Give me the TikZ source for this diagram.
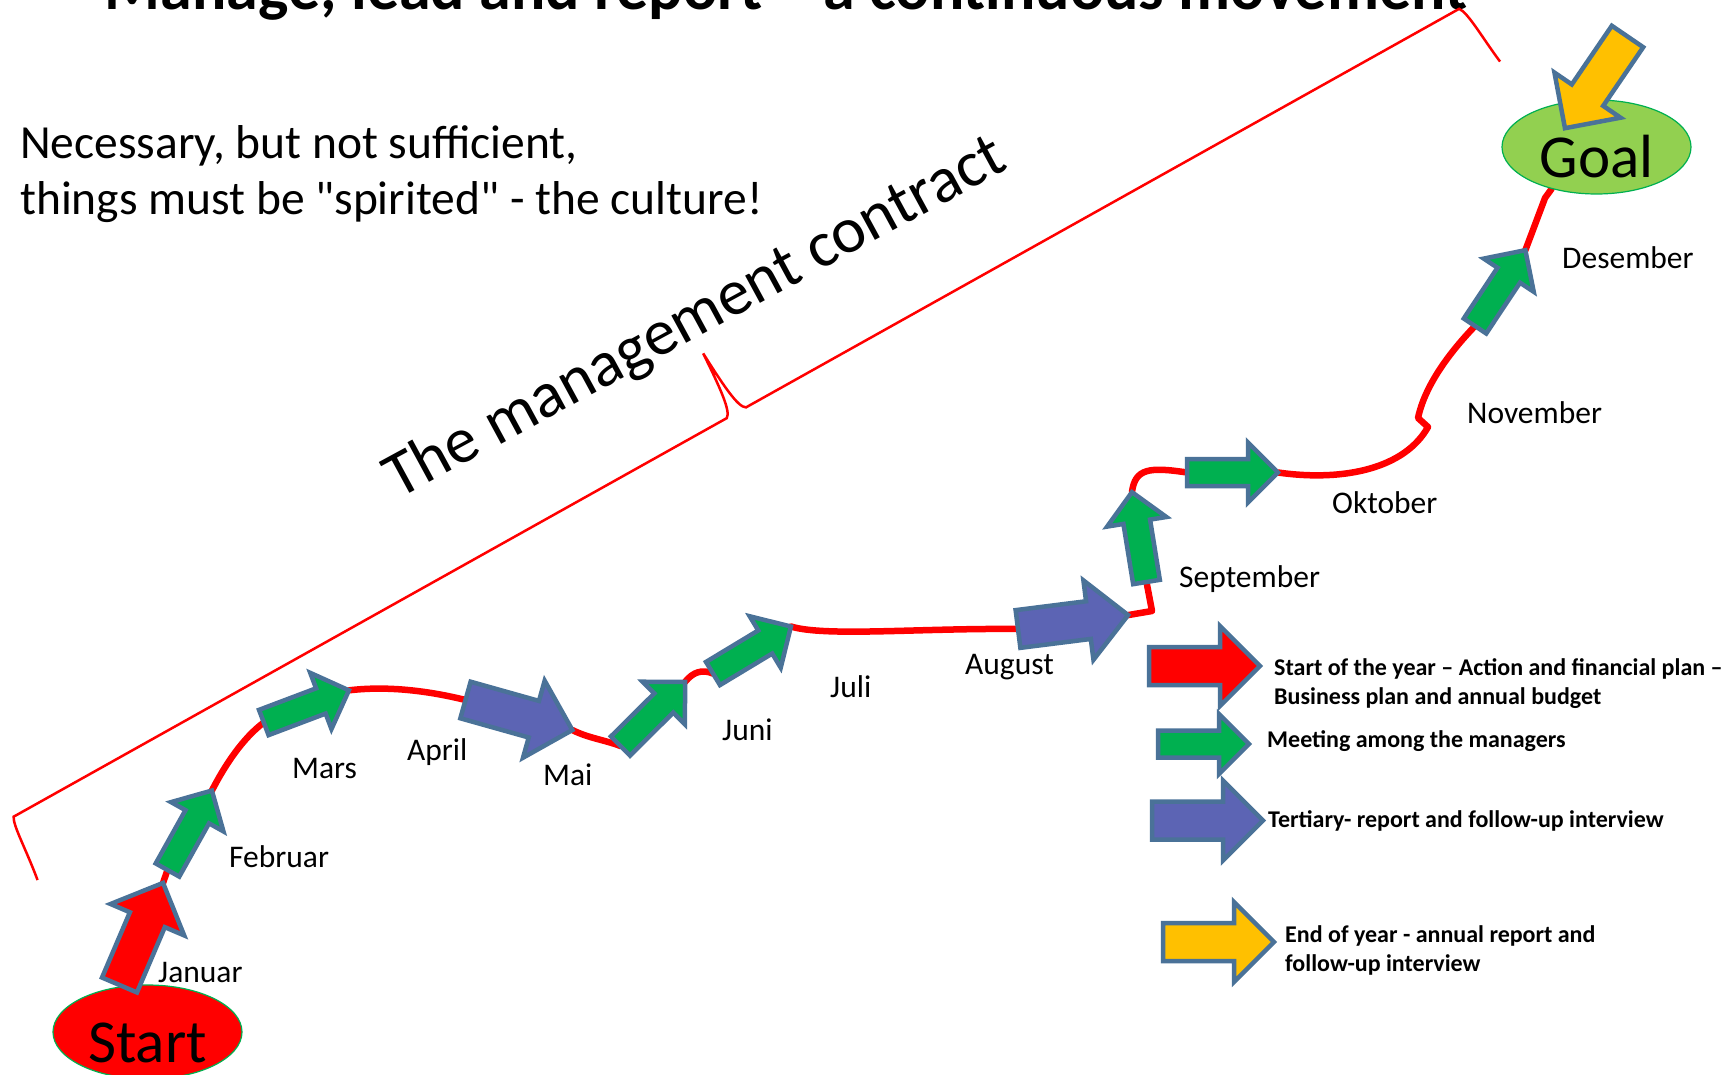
\documentclass[tikz,border=0pt]{standalone}
\usepackage{fontspec}
\setmainfont{Carlito}
\newfontfamily\notefont{Carlito}[Ligatures=TeXOff]
\usetikzlibrary{shapes.geometric,backgrounds}

\definecolor{edgeblue}{RGB}{74,114,152}
\definecolor{pathred}{RGB}{255,0,0}
\definecolor{meetgreen}{RGB}{0,176,80}
\definecolor{reportblue}{RGB}{92,100,180}
\definecolor{yearyellow}{RGB}{255,192,0}
\definecolor{goalgreen}{RGB}{146,208,80}

\tikzset{
  arrow edge/.style={draw=edgeblue, line width=4.5pt},
  pics/bigarrow/.style={code={
    \filldraw[arrow edge, fill=#1] (0,-19) -- (71,-19) -- (71,-40) -- (111,0) -- (71,40) -- (71,19) -- (0,19) -- cycle;
    \coordinate (-tail) at (0,0);
    \coordinate (-tip) at (111,0);
  }},
  pics/smallarrow/.style={code={
    \filldraw[arrow edge, fill=#1] (0,-13.5) -- (61,-13.5) -- (61,-30) -- (91,0) -- (61,30) -- (61,13.5) -- (0,13.5) -- cycle;
    \coordinate (-tail) at (0,0);
    \coordinate (-tip) at (91,0);
  }},
  month/.style={font=\fontsize{31.5}{38}\selectfont, anchor=base west, inner sep=0pt},
  legend/.style={font=\bfseries\fontsize{24}{29}\selectfont, anchor=base west, inner sep=0pt, align=left},
  year path/.style={draw=pathred, line width=6.5pt, line cap=round, line join=round},
  endpoint/.style={ellipse, minimum width=189pt, minimum height=94pt, inner sep=0pt,
    text height=61pt, text depth=0pt, line width=1.2pt, font=\fontsize{61}{61}\selectfont},
}

\begin{document}
\begin{tikzpicture}[x=1pt, y=-1pt]
  \useasboundingbox (0,0) rectangle (1730,1075);
  \clip (0,0) rectangle (1730,1075);

  \node[font=\bfseries\fontsize{64}{70}\selectfont, anchor=base, inner sep=0pt] (title) at (786,10)
    {Manage, lead and report -- a continuous movement};

  % base of a two-line node is the last line
  \node[anchor=base west, inner sep=0pt, align=left, font=\notefont\fontsize{47.5}{56}\selectfont] (note) at (20,215)
    {Necessary, but not sufficient,\\things must be "spirited" - the culture!};

  % the brace over the year
  \begin{scope}[shift={(13.6,816.7)}, rotate=29.2]
    \draw[pathred, line width=2.5pt] (-10,67) .. controls (-5,35) and (-5,8) .. (0,0) -- (817,0)
      .. controls (824,-4) and (826,-30) .. (828,-68) .. controls (830,-30) and (832,-4) .. (839,0)
      -- (1656,0) .. controls (1662,8) and (1662,35) .. (1666,66);
  \end{scope}
  \node[rotate=28.5, anchor=base west, inner sep=0pt, font=\fontsize{65}{65}\selectfont] (contract) at (398,500)
    {The management contract};

  \node[endpoint, draw=meetgreen, fill=pathred] (start) at (147.5,1032) {Start};
  \node[endpoint, draw=meetgreen, fill=goalgreen] (goal) at (1596.5,147) {Goal};

  \pic[rotate=66.9] (jan) at (119.5,985) {bigarrow=pathred};
  \pic[rotate=60.8] (feb) at (167.5,870) {smallarrow=meetgreen};
  \pic[rotate=20.7] (mar) at (263.8,722.5) {smallarrow=meetgreen};
  \pic[rotate=-15.7] (apr) at (465.5,700) {bigarrow=reportblue};
  \pic[rotate=44.8] (mai) at (620.5,746) {smallarrow=meetgreen};
  \pic[rotate=31.1] (jun) at (713,673.5) {smallarrow=meetgreen};
  \pic[rotate=7.2] (aug) at (1018,629) {bigarrow=reportblue};
  \pic[rotate=99.2] (sep) at (1146.5,582) {smallarrow=meetgreen};
  \pic (okt) at (1187,472.5) {smallarrow=meetgreen};
  \pic[rotate=56.4] (des) at (1475,326) {smallarrow=meetgreen};
  \pic[rotate=235.7] (end) at (1627.5,36.5) {bigarrow=yearyellow};

  \begin{scope}[on background layer]
    \draw[year path] (jan-tip) -- (feb-tail)
      (feb-tip) .. controls (225,765) and (243,738) .. (mar-tail)
      (mar-tip) .. controls (385,686) and (425,690) .. (apr-tail)
      (apr-tip) .. controls (588,738) and (605,740) .. (mai-tail)
      (mai-tip) .. controls (693,672) and (702,669) .. (jun-tail)
      (jun-tip) .. controls (825,637) and (920,628) .. (aug-tail)
      (aug-tip) -- (1152,611) -- (sep-tail)
      (sep-tip) .. controls (1135,468) and (1150,467) .. (okt-tail)
      (okt-tip) .. controls (1345,482) and (1405,468) .. (1428,427) -- (1418,418)
        .. controls (1425,385) and (1450,352) .. (des-tail)
      (des-tip) -- (1545,198) -- (goal.-137);
  \end{scope}

  \node[month] (m1) at (158,982) {Januar};
  \node[month] (m2) at (229,867) {Februar};
  \node[month] (m3) at (292,778) {Mars};
  \node[month] (m4) at (407,760) {April};
  \node[month] (m5) at (543,785) {Mai};
  \node[month] (m6) at (722,740) {Juni};
  \node[month] (m7) at (830,697) {Juli};
  \node[month] (m8) at (965,674) {August};
  \node[month] (m9) at (1179,587) {September};
  \node[month] (m10) at (1332,513) {Oktober};
  \node[month] (m11) at (1467,423) {November};
  \node[month] (m12) at (1562,269) {Desember};

  % legend
  \pic (legred) at (1149,666) {bigarrow=pathred};
  \pic (leggreen) at (1158,744) {smallarrow=meetgreen};
  \pic (legblue) at (1152,820.5) {bigarrow=reportblue};
  \pic (legyellow) at (1163,942) {bigarrow=yearyellow};
  \node[legend] (l1) at (1274,704) {Start of the year -- Action and financial plan --\\Business plan and annual budget};
  \node[legend] (l2) at (1267,747) {Meeting among the managers};
  \node[legend] (l3) at (1268,827) {Tertiary- report and follow-up interview};
  \node[legend] (l4) at (1285,971) {End of year - annual report and\\follow-up interview};
\end{tikzpicture}
\end{document}
